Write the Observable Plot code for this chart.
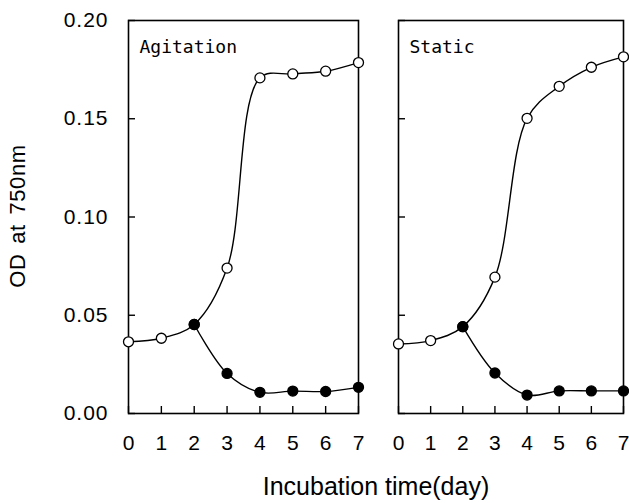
<!DOCTYPE html>
<html>
<head>
<meta charset="utf-8">
<script src="https://cdn.jsdelivr.net/npm/d3@7"></script>
<script src="https://cdn.jsdelivr.net/npm/@observablehq/plot@0.6"></script>
<style>
  body { margin: 0; background: white; }
  #wrap { position: relative; width: 629px; height: 503px; background: white; font-family: "Liberation Sans", Arial, sans-serif; }
  #wrap svg { position: absolute; top: 0; overflow: visible; }
  .ylab { position: absolute; left: 18px; top: 216px; transform: translate(-50%, -50%) rotate(-90deg); font-size: 22px; letter-spacing: 0.6px; word-spacing: 3px; white-space: nowrap; line-height: 1; }
  .xlab { position: absolute; left: 376px; top: 474px; transform: translateX(-50%); font-size: 25px; white-space: nowrap; line-height: 1; }
  .tk text { letter-spacing: 1px; }
</style>
</head>
<body>
<div id="wrap">
  <div class="ylab">OD at 750nm</div>
  <div class="xlab">Incubation time(day)</div>
</div>
<script>
const days = [0, 1, 2, 3, 4, 5, 6, 7];
const panels = ["Agitation", "Static"];
const yTicks = [0, 0.05, 0.10, 0.15, 0.20];
// open circles (full series)
const agitationOpen = [0.0365, 0.0383, 0.0453, 0.0740, 0.1708, 0.1728, 0.1742, 0.1786];
// filled circles (from day 2)
const agitationFilled = [null, null, 0.0453, 0.0204, 0.0108, 0.0114, 0.0112, 0.0133];
const staticOpen = [0.0354, 0.0371, 0.0442, 0.0694, 0.1502, 0.1665, 0.1762, 0.1815];
const staticFilled = [null, null, 0.0442, 0.0206, 0.0094, 0.0115, 0.0115, 0.0115];

function series(vals) {
  return days.map((d, i) => ({day: d, od: vals[i]})).filter(r => r.od != null);
}

function panel(name, openVals, filledVals, opts) {
  const open = series(openVals);
  const filled = series(filledVals);
  const marks = [
    Plot.frame({stroke: "black", strokeWidth: 1.6}),
    Plot.axisY(yTicks, {
      tickSize: -7,
      tickPadding: opts.showY ? 27 : 0,
      tickFormat: opts.showY ? d3.format(".2f") : () => "",
      fontSize: 21,
      label: null,
      strokeWidth: 1.4,
      className: "tk"
    }),
    Plot.axisX(days, {
      tickSize: -7,
      tickPadding: 29,
      fontSize: 21,
      label: null,
      strokeWidth: 1.4
    }),
    Plot.line(open, {x: "day", y: "od", curve: "catmull-rom", stroke: "black", strokeWidth: 1.4}),
    Plot.line(filled, {x: "day", y: "od", curve: "catmull-rom", stroke: "black", strokeWidth: 1.4}),
    Plot.dot(open, {x: "day", y: "od", r: 5, fill: "white", stroke: "black", strokeWidth: 1.3}),
    Plot.dot(filled, {x: "day", y: "od", r: 5, fill: "black", stroke: "black", strokeWidth: 1.3}),
    Plot.text([name], {
      text: d => d,
      frameAnchor: "top-left",
      dx: 11,
      dy: 32,
      lineAnchor: "bottom",
      textAnchor: "start",
      fontFamily: "DejaVu Sans Mono, Liberation Mono, monospace",
      fontSize: 18,
      fill: "black"
    })
  ];
  return Plot.plot({
    width: opts.width,
    height: 503,
    marginLeft: opts.marginLeft,
    marginRight: opts.marginRight,
    marginTop: 20,
    marginBottom: 90,
    style: {fontFamily: "Liberation Sans, Arial, sans-serif", background: "transparent", color: "black", overflow: "visible"},
    x: {domain: [0, 7]},
    y: {domain: [0, 0.2]},
    marks
  });
}

const wrap = document.getElementById("wrap");
const left = panel(panels[0], agitationOpen, agitationFilled, {width: 378, marginLeft: 128, marginRight: 20, showY: true});
left.style.left = "0px";
wrap.appendChild(left);
const right = panel(panels[1], staticOpen, staticFilled, {width: 251, marginLeft: 20, marginRight: 6, showY: false});
right.style.left = "378px";
wrap.appendChild(right);
</script>
</body>
</html>
